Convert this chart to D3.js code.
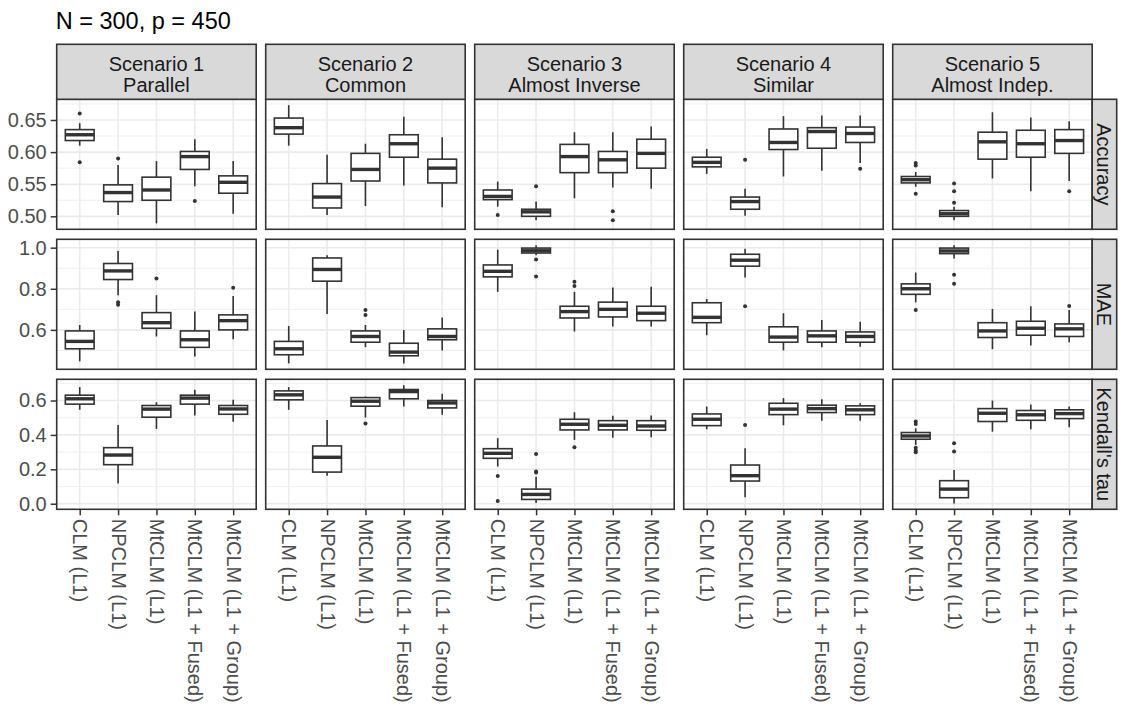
<!DOCTYPE html>
<html><head><meta charset="utf-8">
<script src="https://cdn.jsdelivr.net/npm/d3@7"></script>
<style>body{margin:0;background:#fff} svg{display:block} text{font-family:"Liberation Sans", Arial, sans-serif}</style>
</head><body><svg id="c" width="1122" height="704"></svg>
<script>
// ---------- data ----------
const titleText = "N = 300, p = 450";
const methods = ["CLM (L1)", "NPCLM (L1)", "MtCLM (L1)", "MtCLM (L1 + Fused)", "MtCLM (L1 + Group)"];
const scenarios = ["Scenario 1", "Scenario 2", "Scenario 3", "Scenario 4", "Scenario 5"];
const scenarioTypes = ["Parallel", "Common", "Almost Inverse", "Similar", "Almost Indep."];
const metrics = ["Accuracy", "MAE", "Kendall's tau"];
const accuracyTicks = [0.50, 0.55, 0.60, 0.65];
const maeTicks = [0.6, 0.8, 1.0];
const tauTicks = [0.0, 0.2, 0.4, 0.6];

// [scenario][method] = [lower whisker, Q1, median, Q3, upper whisker]
const accuracyBoxes = [
  [[0.610,0.618,0.627,0.635,0.645],[0.502,0.523,0.537,0.549,0.580],[0.489,0.525,0.541,0.561,0.586],[0.547,0.573,0.593,0.601,0.620],[0.504,0.536,0.553,0.563,0.586]],
  [[0.610,0.628,0.638,0.653,0.673],[0.502,0.513,0.530,0.551,0.596],[0.516,0.555,0.573,0.598,0.613],[0.548,0.592,0.613,0.627,0.655],[0.514,0.552,0.575,0.589,0.623]],
  [[0.515,0.526,0.531,0.541,0.554],[0.494,0.500,0.507,0.511,0.523],[0.528,0.568,0.593,0.612,0.631],[0.545,0.568,0.588,0.601,0.631],[0.543,0.575,0.598,0.620,0.640]],
  [[0.566,0.577,0.584,0.592,0.605],[0.501,0.511,0.523,0.530,0.543],[0.562,0.604,0.615,0.636,0.656],[0.571,0.606,0.632,0.638,0.657],[0.583,0.615,0.629,0.639,0.657]],
  [[0.546,0.552,0.557,0.562,0.569],[0.494,0.500,0.504,0.509,0.515],[0.559,0.589,0.616,0.631,0.662],[0.539,0.592,0.613,0.634,0.654],[0.555,0.598,0.618,0.635,0.648]]
];
const accuracyOutliers = [
  [[0.660,0.584],[0.590],[],[0.524],[]],
  [[],[],[],[],[]],
  [[0.502],[0.547],[],[0.508,0.494],[]],
  [[],[0.588],[],[],[0.574]],
  [[0.583,0.579,0.535],[0.551,0.539,0.521],[],[],[0.539]]
];
const maeBoxes = [
  [[0.447,0.508,0.544,0.595,0.624],[0.769,0.845,0.887,0.923,0.984],[0.568,0.608,0.635,0.684,0.769],[0.471,0.515,0.552,0.595,0.689],[0.555,0.600,0.645,0.673,0.765]],
  [[0.437,0.479,0.508,0.544,0.619],[0.677,0.837,0.894,0.950,0.963],[0.516,0.540,0.568,0.595,0.624],[0.437,0.474,0.492,0.535,0.600],[0.500,0.552,0.568,0.605,0.660]],
  [[0.785,0.858,0.885,0.916,0.990],[0.963,0.974,0.985,0.998,1.012],[0.592,0.658,0.689,0.715,0.785],[0.616,0.663,0.700,0.735,0.806],[0.616,0.645,0.681,0.715,0.810]],
  [[0.574,0.635,0.661,0.732,0.750],[0.855,0.910,0.939,0.968,0.995],[0.500,0.540,0.565,0.615,0.681],[0.516,0.540,0.571,0.595,0.648],[0.518,0.540,0.568,0.590,0.639]],
  [[0.734,0.773,0.800,0.824,0.879],[0.947,0.971,0.984,0.998,1.012],[0.506,0.563,0.595,0.635,0.702],[0.524,0.574,0.608,0.642,0.715],[0.540,0.568,0.605,0.629,0.697]]
];
const maeOutliers = [
  [[],[0.735,0.722],[0.850],[],[0.805]],
  [[],[],[0.697,0.673],[],[]],
  [[],[0.942,0.860],[0.834,0.813],[],[]],
  [[],[0.715],[],[],[]],
  [[0.697],[0.868,0.824],[],[],[0.716]]
];
const tauBoxes = [
  [[0.546,0.579,0.610,0.631,0.678],[0.118,0.227,0.283,0.326,0.458],[0.435,0.503,0.550,0.571,0.590],[0.513,0.579,0.614,0.631,0.662],[0.476,0.520,0.551,0.571,0.604]],
  [[0.546,0.604,0.633,0.656,0.678],[0.163,0.184,0.270,0.336,0.487],[0.501,0.567,0.596,0.617,0.623],[0.565,0.610,0.652,0.664,0.689],[0.518,0.557,0.586,0.600,0.639]],
  [[0.216,0.264,0.293,0.320,0.381],[0.004,0.025,0.054,0.085,0.157],[0.371,0.429,0.462,0.491,0.532],[0.384,0.429,0.456,0.483,0.511],[0.386,0.427,0.452,0.483,0.513]],
  [[0.433,0.454,0.491,0.522,0.565],[0.037,0.132,0.163,0.225,0.322],[0.456,0.518,0.550,0.584,0.614],[0.483,0.530,0.553,0.573,0.608],[0.483,0.518,0.546,0.569,0.584]],
  [[0.342,0.375,0.394,0.414,0.439],[0.002,0.035,0.085,0.134,0.196],[0.419,0.478,0.526,0.553,0.600],[0.433,0.485,0.517,0.542,0.577],[0.445,0.495,0.524,0.546,0.565]]
];
const tauOutliers = [
  [[],[],[],[],[]],
  [[],[],[0.466],[],[]],
  [[0.161,0.016],[0.289,0.188,0.181],[0.328],[],[]],
  [[],[0.458],[],[],[]],
  [[0.478,0.464,0.326,0.309,0.299],[0.351,0.303],[],[],[]]
];

// ---------- layout ----------
const W = 1122, H = 704;
const L = 56.7, PW = 199.5, GX = 9.5, T = 99.3, PH = 130, GY = 10, ST = 44.3, SH = 55, RSW = 24.5;
const DARK = "#333333", GRID = "#EBEBEB", AXT = "#4D4D4D", STRIPT = "#1A1A1A";
const FS = 20;

const rows = [
  {boxes: accuracyBoxes, outliers: accuracyOutliers, ticks: accuracyTicks, fmt: d3.format(".2f")},
  {boxes: maeBoxes, outliers: maeOutliers, ticks: maeTicks, fmt: d3.format(".1f")},
  {boxes: tauBoxes, outliers: tauOutliers, ticks: tauTicks, fmt: d3.format(".1f")}
];

const svg = d3.select("#c");
svg.append("rect").attr("width", W).attr("height", H).attr("fill", "#fff");

svg.append("text").attr("x", L - 1).attr("y", 29).attr("font-size", 23.5).attr("fill", "#000").text(titleText);

rows.forEach((row, r) => {
  const vals = [];
  row.boxes.forEach(sc => sc.forEach(b => { vals.push(b[0], b[4]); }));
  row.outliers.forEach(sc => sc.forEach(o => o.forEach(v => vals.push(v))));
  const [mn, mx] = d3.extent(vals);
  const pad = (mx - mn) * 0.05;
  const y0 = T + r * (PH + GY);
  const y = d3.scaleLinear().domain([mn - pad, mx + pad]).range([y0 + PH, y0]);
  const step = row.ticks[1] - row.ticks[0];
  const minor = [];
  for (let i = -1; i < row.ticks.length; i++) {
    const m = row.ticks[0] + (i + 0.5) * step;
    if (m >= y.domain()[0] && m <= y.domain()[1]) minor.push(m);
  }

  scenarios.forEach((sc, c) => {
    const x0 = L + c * (PW + GX);
    const x = d3.scalePoint().domain(methods).range([x0, x0 + PW]).padding(0.6);
    const bw = x.step() * 0.75;
    const g = svg.append("g");

    g.selectAll(".mn").data(minor).join("line")
      .attr("x1", x0).attr("x2", x0 + PW).attr("y1", d => y(d)).attr("y2", d => y(d))
      .attr("stroke", GRID).attr("stroke-width", 0.8);
    g.selectAll(".mj").data(row.ticks).join("line")
      .attr("x1", x0).attr("x2", x0 + PW).attr("y1", d => y(d)).attr("y2", d => y(d))
      .attr("stroke", GRID).attr("stroke-width", 1.6);
    g.selectAll(".mx").data(methods).join("line")
      .attr("x1", d => x(d)).attr("x2", d => x(d)).attr("y1", y0).attr("y2", y0 + PH)
      .attr("stroke", GRID).attr("stroke-width", 1.6);

    methods.forEach((m, k) => {
      const b = row.boxes[c][k];
      const cx = x(m);
      g.append("line").attr("x1", cx).attr("x2", cx).attr("y1", y(b[0])).attr("y2", y(b[1]))
        .attr("stroke", DARK).attr("stroke-width", 1.6);
      g.append("line").attr("x1", cx).attr("x2", cx).attr("y1", y(b[3])).attr("y2", y(b[4]))
        .attr("stroke", DARK).attr("stroke-width", 1.6);
      g.append("rect").attr("x", cx - bw / 2).attr("width", bw)
        .attr("y", y(b[3])).attr("height", Math.max(0, y(b[1]) - y(b[3])))
        .attr("fill", "#fff").attr("stroke", DARK).attr("stroke-width", 1.6);
      g.append("line").attr("x1", cx - bw / 2).attr("x2", cx + bw / 2).attr("y1", y(b[2])).attr("y2", y(b[2]))
        .attr("stroke", DARK).attr("stroke-width", 3.4);
      g.selectAll(null).data(row.outliers[c][k]).join("circle")
        .attr("cx", cx).attr("cy", d => y(d)).attr("r", 2).attr("fill", DARK);
    });

    g.append("rect").attr("x", x0).attr("y", y0).attr("width", PW).attr("height", PH)
      .attr("fill", "none").attr("stroke", DARK).attr("stroke-width", 1.6);

    if (c === 0) {
      const ax = svg.append("g").attr("transform", `translate(${x0},0)`)
        .call(d3.axisLeft(y).tickValues(row.ticks).tickFormat(row.fmt).tickSize(6).tickPadding(4));
      ax.select(".domain").remove();
      ax.selectAll(".tick line").attr("stroke", DARK).attr("stroke-width", 1.5);
      ax.selectAll(".tick text").attr("fill", AXT).attr("font-size", FS)
        .attr("font-family", '"Liberation Sans", Arial, sans-serif');
    }
    if (r === rows.length - 1) {
      const ax = svg.append("g").attr("transform", `translate(0,${y0 + PH})`)
        .call(d3.axisBottom(x).tickSize(6));
      ax.select(".domain").remove();
      ax.selectAll(".tick line").attr("stroke", DARK).attr("stroke-width", 1.5);
      ax.selectAll(".tick text").attr("fill", AXT).attr("font-size", FS)
        .attr("font-family", '"Liberation Sans", Arial, sans-serif')
        .attr("transform", "rotate(90)").attr("text-anchor", "start")
        .attr("x", 9.5).attr("y", 0).attr("dy", "0.35em");
    }
    if (r === 0) {
      svg.append("rect").attr("x", x0).attr("y", ST).attr("width", PW).attr("height", SH)
        .attr("fill", "#D9D9D9").attr("stroke", DARK).attr("stroke-width", 1.6);
      svg.append("text").attr("x", x0 + PW / 2).attr("y", ST + 27).attr("text-anchor", "middle")
        .attr("font-size", FS).attr("fill", STRIPT).text(sc);
      svg.append("text").attr("x", x0 + PW / 2).attr("y", ST + 48).attr("text-anchor", "middle")
        .attr("font-size", FS).attr("fill", STRIPT).text(scenarioTypes[c]);
    }
    if (c === scenarios.length - 1) {
      svg.append("rect").attr("x", x0 + PW).attr("y", y0).attr("width", RSW).attr("height", PH)
        .attr("fill", "#D9D9D9").attr("stroke", DARK).attr("stroke-width", 1.6);
      svg.append("text").attr("transform", `translate(${x0 + PW + RSW / 2},${y0 + PH / 2}) rotate(90)`)
        .attr("text-anchor", "middle").attr("dy", "0.35em")
        .attr("font-size", FS).attr("fill", STRIPT).text(metrics[r]);
    }
  });
});
</script></body></html>
